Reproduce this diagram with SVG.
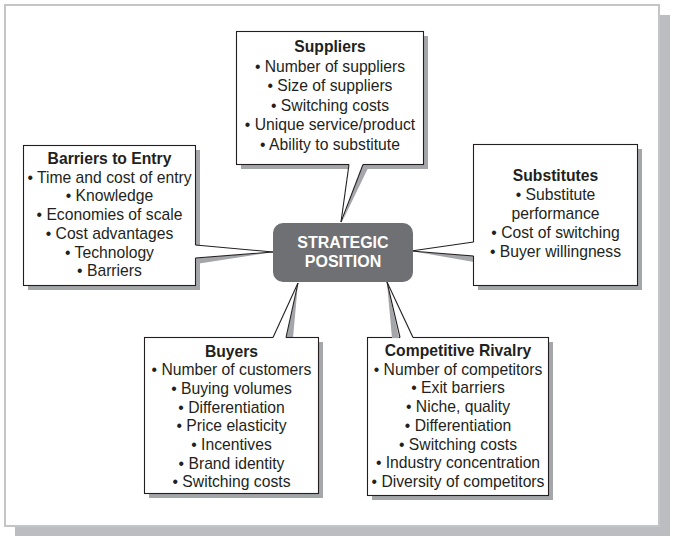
<svg xmlns="http://www.w3.org/2000/svg" width="677" height="545" viewBox="0 0 677 545">
<style>
.sh{fill:#a4a6a9}
.box{fill:#ffffff;stroke:#231f20;stroke-width:1.1}
.ptr{fill:#ffffff;stroke:none}
.ln{stroke:#231f20;stroke-width:1.1;fill:none}
text{font-family:"Liberation Sans",Arial,Helvetica,sans-serif;font-size:15.7px;fill:#231f20;text-anchor:middle}
.t{font-weight:bold}
.c{font-weight:bold;font-size:16px;fill:#ffffff}
</style>
<rect x="0" y="0" width="677" height="545" fill="#ffffff"/>
<rect x="15" y="15" width="655" height="521" fill="#bcbdc0"/>
<rect x="5" y="5" width="654" height="521" fill="#ffffff" stroke="#c4c5c7" stroke-width="2"/>

<g id="suppliers">
<rect class="sh" x="241" y="36" width="187" height="133"/>
<polygon class="sh" points="342,222 363,164 370,164"/>
<rect class="box" x="236.5" y="31.5" width="187" height="133"/>
<polygon class="ptr" points="341,222 363,165 363,162 349,162 349,165"/>
<line class="ln" x1="349" y1="164.5" x2="341" y2="222"/>
<line class="ln" x1="363" y1="164.5" x2="341" y2="222"/>
<text class="t" x="330" y="52">Suppliers</text>
<text x="330" y="71.6">• Number of suppliers</text>
<text x="330" y="91.2">• Size of suppliers</text>
<text x="330" y="110.8">• Switching costs</text>
<text x="330" y="130.4">• Unique service/product</text>
<text x="330" y="150">• Ability to substitute</text>
</g>

<g id="barriers">
<rect class="sh" x="28" y="150" width="172" height="140"/>
<polygon class="sh" points="273,252 196,258 196,264"/>
<rect class="box" x="23.5" y="145.5" width="172" height="140"/>
<polygon class="ptr" points="273,252 195,245 193,245 193,258 195,258"/>
<line class="ln" x1="195.5" y1="245" x2="273" y2="252"/>
<line class="ln" x1="195.5" y1="258" x2="273" y2="252"/>
<text class="t" x="109.5" y="164">Barriers to Entry</text>
<text x="109.5" y="182.7">• Time and cost of entry</text>
<text x="109.5" y="201.4">• Knowledge</text>
<text x="109.5" y="220.1">• Economies of scale</text>
<text x="109.5" y="238.8">• Cost advantages</text>
<text x="109.5" y="257.5">• Technology</text>
<text x="109.5" y="276.2">• Barriers</text>
</g>

<g id="substitutes">
<rect class="sh" x="478" y="149" width="164" height="141"/>
<polygon class="sh" points="411,251 474,256 474,262"/>
<rect class="box" x="473.5" y="144.5" width="164" height="141"/>
<polygon class="ptr" points="411,251 474,242 476,242 476,256 474,256"/>
<line class="ln" x1="473.5" y1="242" x2="411" y2="251"/>
<line class="ln" x1="473.5" y1="256" x2="411" y2="251"/>
<text class="t" x="555.5" y="181">Substitutes</text>
<text x="555.5" y="200">• Substitute</text>
<text x="555.5" y="219">performance</text>
<text x="555.5" y="238">• Cost of switching</text>
<text x="555.5" y="257">• Buyer willingness</text>
</g>

<g id="buyers">
<rect class="sh" x="149" y="342" width="174" height="156"/>
<polygon class="sh" points="298,283 286,338 293,338"/>
<rect class="box" x="144.5" y="337.5" width="174" height="156"/>
<polygon class="ptr" points="298,283 273,337 273,340 286,340 286,337"/>
<line class="ln" x1="273" y1="337.5" x2="298" y2="283"/>
<line class="ln" x1="286" y1="337.5" x2="298" y2="283"/>
<text class="t" x="231.5" y="356.5">Buyers</text>
<text x="231.5" y="375.2">• Number of customers</text>
<text x="231.5" y="393.9">• Buying volumes</text>
<text x="231.5" y="412.6">• Differentiation</text>
<text x="231.5" y="431.3">• Price elasticity</text>
<text x="231.5" y="450">• Incentives</text>
<text x="231.5" y="468.7">• Brand identity</text>
<text x="231.5" y="487.4">• Switching costs</text>
</g>

<g id="rivalry">
<rect class="sh" x="372" y="342" width="181" height="158"/>
<rect class="box" x="367.5" y="337.5" width="181" height="158"/>
<polygon class="ptr" points="387,282 400,337 400,340 413,340 413,337"/>
<polygon class="sh" points="387,283 392,338 399,338"/>
<line class="ln" x1="400" y1="337.5" x2="387" y2="282"/>
<line class="ln" x1="413" y1="337.5" x2="387" y2="282"/>
<text class="t" x="458" y="356">Competitive Rivalry</text>
<text x="458" y="374.7">• Number of competitors</text>
<text x="458" y="393.4">• Exit barriers</text>
<text x="458" y="412.1">• Niche, quality</text>
<text x="458" y="430.8">• Differentiation</text>
<text x="458" y="449.5">• Switching costs</text>
<text x="458" y="468.2">• Industry concentration</text>
<text x="458" y="486.9">• Diversity of competitors</text>
</g>

<g id="connectors"></g>

<g id="center">
<rect x="273" y="223" width="140" height="59" rx="10" ry="10" fill="#6f7073"/>
<text class="c" x="343" y="248">STRATEGIC</text>
<text class="c" x="343" y="267">POSITION</text>
</g>
</svg>
